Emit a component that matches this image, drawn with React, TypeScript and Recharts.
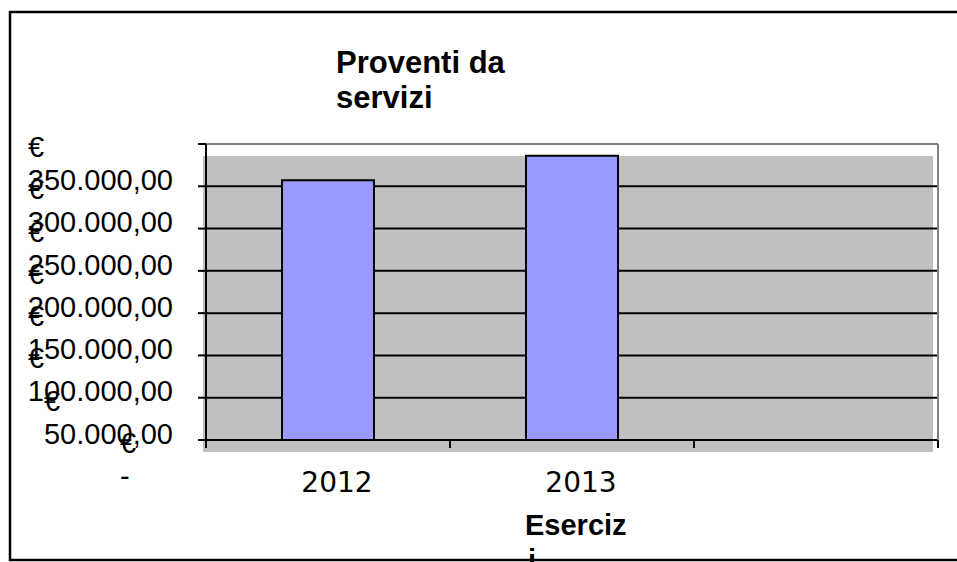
import { BarChart, Bar, XAxis, YAxis, CartesianGrid, ReferenceLine } from "recharts";

// Dati del grafico
const categories = ["2012", "2013", ""];
const proventi = [307000, 336000, null];
const yTicks = [0, 50000, 100000, 150000, 200000, 250000, 300000, 350000];
const yTickLabels = ["-", "50.000,00", "100.000,00", "150.000,00", "200.000,00", "250.000,00", "300.000,00", "350.000,00"];

const W = 957;
const H = 562;
const MARGIN = { top: 144, right: 18, left: 0, bottom: 0 };
const Y_AXIS_W = 206;
const Y_RIGHT_W = 1;
const BAND = (W - MARGIN.right - Y_RIGHT_W - Y_AXIS_W) / categories.length;
const ARIAL = "'Liberation Sans', Arial, sans-serif";

const data = categories.map((anno, i) => ({ anno, valore: proventi[i] }));

// Etichette asse Y: "€" sopra, importo sotto (come l'originale, spostate in basso)
function YTick({ y, payload }: any) {
  const i = yTicks.indexOf(payload.value);
  const label = yTickLabels[i] ?? "";
  const w = label.split("").reduce((s, ch) => s + (/[0-9]/.test(ch) ? 0.556 : 0.278) * 29, 0);
  const isZero = label === "-";
  const euroX = isZero ? 120 : 173 - w;
  return (
    <g>
      <text x={euroX} y={y + 13} fontSize={29} fontFamily={ARIAL} fill="#000">€</text>
      <text
        x={isZero ? 120 : 173}
        y={y + 46}
        textAnchor={isZero ? "start" : "end"}
        fontSize={29}
        fontFamily={ARIAL}
        fill="#000"
      >
        {label}
      </text>
    </g>
  );
}

// etichetta categoria + tacche sui bordi della categoria
function XTick({ x, y, payload, index }: any) {
  const last = index === categories.length - 1;
  return (
    <g>
      <line x1={x - BAND / 2} x2={x - BAND / 2} y1={y} y2={y + 8} stroke="#000" strokeWidth={2} />
      {last && <line x1={x + BAND / 2} x2={x + BAND / 2} y1={y} y2={y + 8} stroke="#000" strokeWidth={2} />}
      <text x={x + 9} y={y + 52} textAnchor="middle" fontSize={28} fontFamily="'DejaVu Sans', sans-serif" fill="#000">
        {payload.value}
      </text>
    </g>
  );
}

export default function App() {
  return (
    <div style={{ position: "absolute", left: 0, top: 0, width: W, height: H, overflow: "hidden", background: "#fff" }}>
      {/* sfondo grigio dell'area del grafico */}
      <div style={{ position: "absolute", left: 203, top: 156, width: 730, height: 296, background: "#c0c0c0" }} />
      <div style={{ position: "absolute", left: 0, top: 0 }}>
        <BarChart width={W} height={H} data={data} margin={MARGIN}>
          <CartesianGrid vertical={false} stroke="#000" strokeWidth={2} />
          <XAxis
            dataKey="anno"
            axisLine={{ stroke: "#000", strokeWidth: 2 }}
            tickLine={false}
            tickSize={0}
            tickMargin={0}
            height={122}
            interval={0}
            tick={<XTick />}
          />
          <YAxis
            domain={[0, 350000]}
            ticks={yTicks}
            width={Y_AXIS_W}
            interval={0}
            axisLine={{ stroke: "#000", strokeWidth: 2 }}
            tickLine={{ stroke: "#000", strokeWidth: 2 }}
            tickSize={8}
            tick={<YTick />}
          />
          <YAxis
            yAxisId="bordo"
            orientation="right"
            domain={[0, 350000]}
            width={Y_RIGHT_W}
            tick={false}
            tickLine={false}
            axisLine={{ stroke: "#808080", strokeWidth: 2 }}
          />
          <ReferenceLine y={350000} stroke="#808080" strokeWidth={2} />
          <Bar
            dataKey="valore"
            fill="#9999ff"
            stroke="#000"
            strokeWidth={2}
            barSize={92}
            isAnimationActive={false}
          />
        </BarChart>
      </div>
      {/* cornice (aperta a destra), titolo e titolo asse */}
      <svg width={W} height={H} style={{ position: "absolute", left: 0, top: 0 }}>
        <polyline points="1000,12 10,12 10,560 1000,560" fill="none" stroke="#000" strokeWidth={2.5} />
        <text x={336} y={73} fontSize={31} fontWeight="bold" fontFamily={ARIAL} fill="#000">Proventi da</text>
        <text x={336} y={108} fontSize={31} fontWeight="bold" fontFamily={ARIAL} fill="#000">servizi</text>
        <text x={525} y={535} fontSize={29} fontWeight="bold" fontFamily={ARIAL} fill="#000">Eserciz</text>
        <text x={528} y={570} fontSize={29} fontWeight="bold" fontFamily={ARIAL} fill="#000">i</text>
      </svg>
    </div>
  );
}
